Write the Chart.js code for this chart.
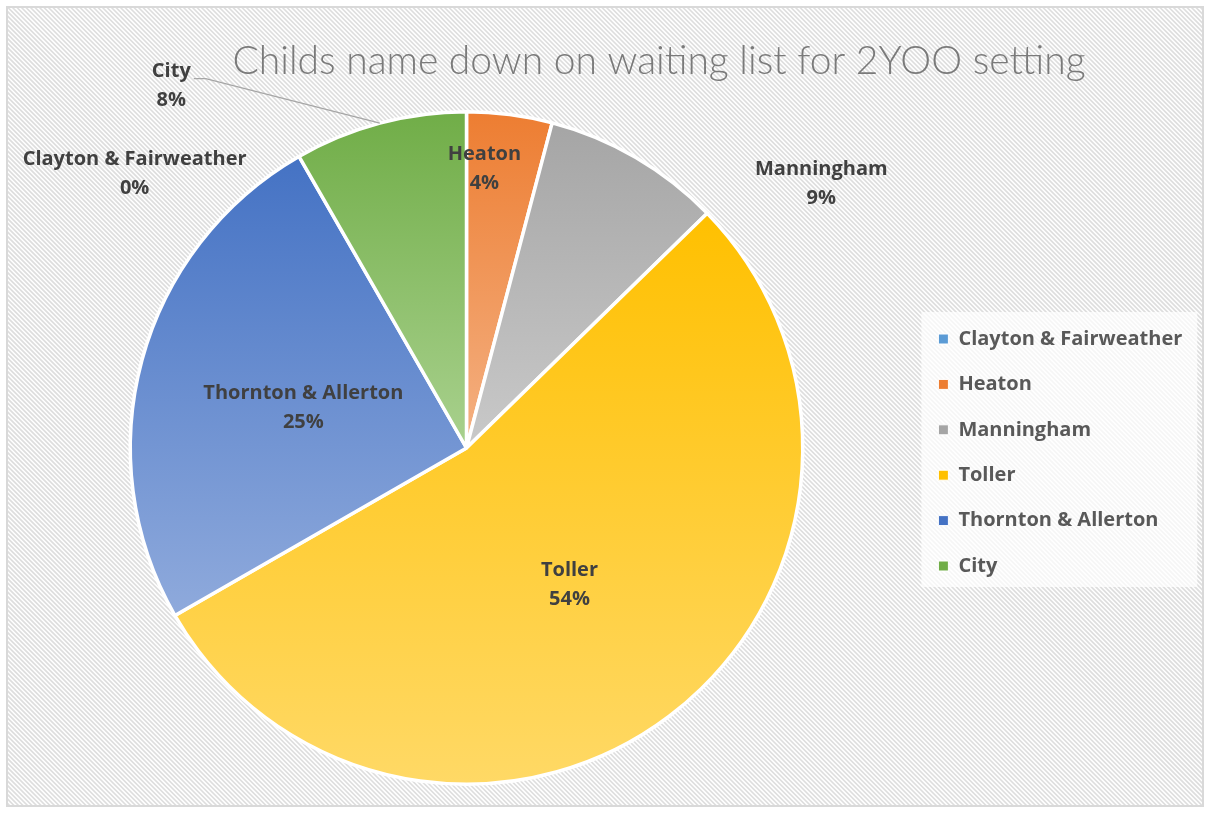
<!DOCTYPE html>
<html><head><meta charset="utf-8">
<script src="https://cdn.jsdelivr.net/npm/chart.js@4.4.1/dist/chart.umd.min.js"></script>
<style>html,body{margin:0;padding:0;background:#fff;} #wrap{width:1210px;height:814px;position:relative;}</style>
</head><body><div id="wrap"><canvas id="c" width="1210" height="814"></canvas></div>
<script>
const categories = ['Clayton & Fairweather', 'Heaton', 'Manningham', 'Toller', 'Thornton & Allerton', 'City'];
const values = [0, 4.1, 8.6, 54.0, 25.0, 8.3];
const chartTitle = 'Childs name down on waiting list for 2YOO setting';

const baseColors = ['#5B9BD5', '#ED7D31', '#A5A5A5', '#FFC000', '#4472C4', '#70AD47'];
const lightColors = ['#9DC3E6', '#F4B183', '#C9C9C9', '#FFD966', '#8FAADC', '#A9D18E'];

// label placement: angle (deg clockwise from 12 o'clock) and distance as fraction of radius
const labelPlacement = [
  {angle: 309.6, dist: 1.281},
  {angle: 3.66, dist: 0.833},
  {angle: 53.3, dist: 1.316},
  {angle: 143.1, dist: 0.51},
  {angle: 284, dist: 0.50},
  {angle: 320.8, dist: 1.389, leader: true}
];

const FONT_SIZE = 20;
const LABEL_FONT = 'bold ' + FONT_SIZE + 'px "Open Sans"';
const LEG_PAD = 25.4;
const LEG_BOX = 10;

const total = values.reduce((a, b) => a + b, 0);
const pctText = v => Math.round(v / total * 100) + '%';

// measure widest legend entry to place the pie centre where the reference has it
const mctx = document.createElement('canvas').getContext('2d');
mctx.font = LABEL_FONT;
const maxTextW = Math.max(...categories.map(t => mctx.measureText(t).width));
const legendW = LEG_PAD + LEG_BOX + FONT_SIZE / 2 + maxTextW + 10;
const padLeft = 20;
const chartRight = 913;
const padRight = Math.max(0, 1210 - chartRight - legendW);

function sliceGradient(ctx) {
  const chart = ctx.chart;
  const i = ctx.dataIndex;
  const ca = chart.chartArea;
  if (!ca) return baseColors[i];
  const cx = (ca.left + ca.right) / 2, cy = (ca.top + ca.bottom) / 2;
  const r = Math.min(ca.right - ca.left, ca.bottom - ca.top) / 2;
  let before = 0;
  for (let k = 0; k < i; k++) before += values[k];
  const a0 = before / total * 2 * Math.PI - Math.PI / 2;
  const a1 = (before + values[i]) / total * 2 * Math.PI - Math.PI / 2;
  const ys = [cy, cy + r * Math.sin(a0), cy + r * Math.sin(a1)];
  for (let k = -4; k <= 8; k++) {
    const a = k * Math.PI / 2;
    if (a > a0 && a < a1) ys.push(cy + r * Math.sin(a));
  }
  let y0 = Math.min(...ys), y1 = Math.max(...ys);
  if (y1 - y0 < 1) y1 = y0 + 1;
  const g = chart.ctx.createLinearGradient(0, y0, 0, y1);
  g.addColorStop(0, baseColors[i]);
  g.addColorStop(1, lightColors[i]);
  return g;
}

const decorPlugin = {
  id: 'decor',
  beforeDraw(chart) {
    const c = chart.ctx, W = chart.width, H = chart.height;
    c.save();
    c.fillStyle = '#ffffff';
    c.fillRect(0, 0, W, H);
    c.beginPath();
    c.rect(8, 8, W - 16, H - 17);
    c.clip();
    c.strokeStyle = '#dedede';
    c.lineWidth = 1.6;
    c.beginPath();
    for (let k = -H; k < W + H; k += 4.5) {
      c.moveTo(k, 0);
      c.lineTo(k + H, H);
    }
    c.stroke();
    c.restore();
    c.save();
    c.strokeStyle = '#d9d9d9';
    c.lineWidth = 2;
    c.strokeRect(7, 7, W - 14, H - 15);
    c.restore();
    // legend backdrop
    const lg = chart.legend;
    if (lg && lg.legendHitBoxes && lg.legendHitBoxes.length) {
      const hb = lg.legendHitBoxes;
      let l = Infinity, t = Infinity, r = -Infinity, b = -Infinity;
      hb.forEach(h => { l = Math.min(l, h.left); t = Math.min(t, h.top); r = Math.max(r, h.left + h.width); b = Math.max(b, h.top + h.height); });
      c.save();
      c.fillStyle = 'rgba(255,255,255,0.72)';
      c.fillRect(l - 17, t - 17, r - l + 32, b - t + 28);
      c.restore();
    }
  },
  afterDraw(chart) {
    const c = chart.ctx;
    const meta = chart.getDatasetMeta(0);
    const arc0 = meta.data[0];
    const cx = arc0.x, cy = arc0.y, R = arc0.outerRadius;
    c.save();
    c.font = LABEL_FONT;
    c.fillStyle = '#404040';
    c.textAlign = 'center';
    c.textBaseline = 'middle';
    labelPlacement.forEach((p, i) => {
      const a = p.angle * Math.PI / 180;
      const x = cx + R * p.dist * Math.sin(a);
      const y = cy - R * p.dist * Math.cos(a);
      const y1 = y - 14.5, y2 = y + 14.5;
      c.fillText(categories[i], x, y1);
      c.fillText(pctText(values[i]), x, y2);
      if (p.leader) {
        const arc = meta.data[i];
        const m = (arc.startAngle + arc.endAngle) / 2;
        const ex = cx + R * Math.cos(m), ey = cy + R * Math.sin(m);
        const w = c.measureText(categories[i]).width;
        const sx = x + w / 2 + 3, sy = y1 + 7;
        c.save();
        c.strokeStyle = '#a6a6a6';
        c.lineWidth = 1.3;
        c.beginPath();
        c.moveTo(sx, sy);
        c.lineTo(sx + 12, sy);
        c.lineTo(ex, ey);
        c.stroke();
        c.restore();
      }
    });
    c.font = '300 39px Lato';
    c.fillStyle = '#7a7a7a';
    c.textBaseline = 'alphabetic';
    c.fillText(chartTitle, 659, 74);
    c.restore();
  }
};

new Chart(document.getElementById('c'), {
  type: 'pie',
  data: {
    labels: categories,
    datasets: [{
      data: values,
      backgroundColor: sliceGradient,
      borderColor: '#ffffff',
      borderWidth: 3.5
    }]
  },
  options: {
    responsive: false,
    animation: false,
    layout: {padding: {left: padLeft, top: 110, bottom: 28, right: padRight}},
    plugins: {
      title: {display: false},
      tooltip: {enabled: false},
      legend: {
        position: 'right',
        title: {display: true, text: '', font: {size: 1, lineHeight: 1}, padding: {top: 4, bottom: 4}},
        labels: {
          boxWidth: LEG_BOX,
          boxHeight: LEG_BOX,
          padding: LEG_PAD,
          color: '#595959',
          font: {family: 'Open Sans', weight: 'bold', size: FONT_SIZE},
          generateLabels: chart => categories.map((c, i) => ({
            text: c,
            fillStyle: baseColors[i],
            strokeStyle: '#ffffff',
            lineWidth: 1,
            fontColor: '#595959',
            hidden: !chart.getDataVisibility(i),
            index: i
          }))
        }
      }
    }
  },
  plugins: [decorPlugin]
});
</script>
</body></html>
